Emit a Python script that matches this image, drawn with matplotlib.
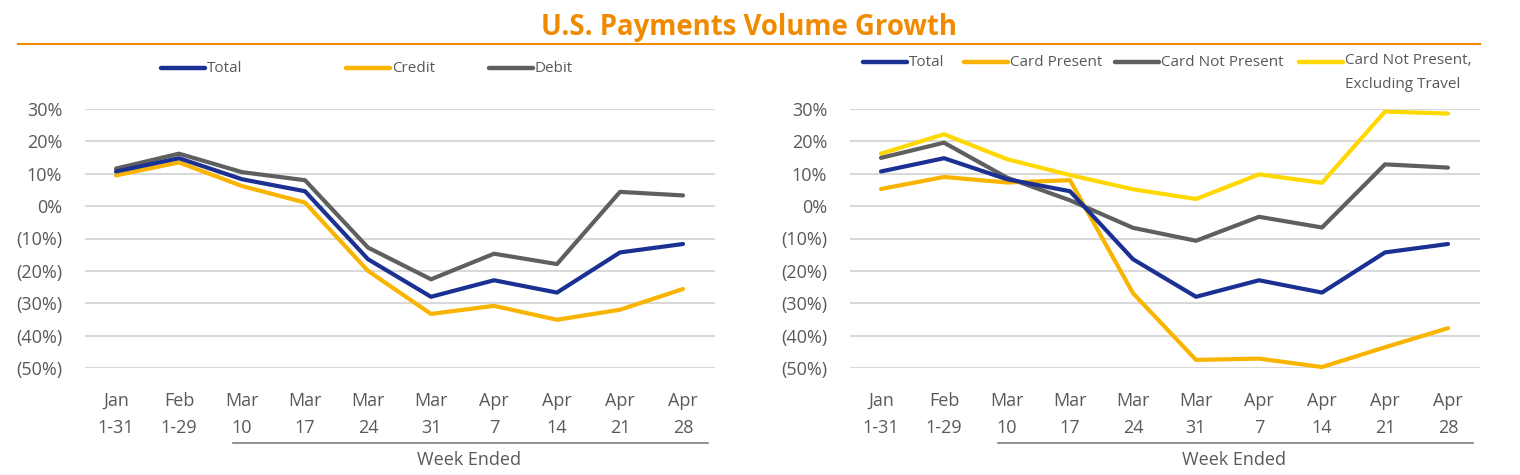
import matplotlib
matplotlib.use("Agg")
import matplotlib.pyplot as plt
from matplotlib.lines import Line2D
from matplotlib.ticker import FuncFormatter
import matplotlib.transforms as mtransforms

plt.rcParams['font.family'] = ['Open Sans', 'DejaVu Sans']

# ---- data ----
categories = ["Jan\n1-31", "Feb\n1-29", "Mar\n10", "Mar\n17", "Mar\n24",
              "Mar\n31", "Apr\n7", "Apr\n14", "Apr\n21", "Apr\n28"]

total = [10.7, 14.8, 8.3, 4.6, -16.4, -28.0, -22.9, -26.7, -14.3, -11.7]
credit = [9.5, 13.5, 6.2, 1.1, -20.0, -33.3, -30.8, -35.1, -32.0, -25.6]
debit = [11.6, 16.2, 10.5, 8.0, -12.8, -22.6, -14.7, -17.9, 4.4, 3.3]

card_present = [5.3, 9.0, 7.3, 8.0, -26.9, -47.5, -47.1, -49.7, -43.6, -37.7]
card_not_present = [14.9, 19.6, 8.8, 1.8, -6.7, -10.7, -3.3, -6.6, 12.9, 11.9]
cnp_ex_travel = [16.2, 22.2, 14.5, 9.6, 5.2, 2.2, 9.8, 7.2, 29.2, 28.6]

yticks = [30, 20, 10, 0, -10, -20, -30, -40, -50]

BLUE = "#1b3093"
GOLD = "#f9b400"
GREY = "#5f5f5f"
YELLOW = "#ffd800"
ORANGE = "#f08a00"
TXT = "#595959"

W, H = 1520, 475
fig = plt.figure(figsize=(W / 100, H / 100), dpi=100)


def fx(px):
    return px / W


def fy(py):
    return 1 - py / H


def pct(v, pos):
    return f"{v:.0f}%" if v >= 0 else f"({-v:.0f}%)"


def setup(ax):
    ax.set_xlim(-0.5, len(categories) - 0.5)
    ax.set_ylim(-50, 30)
    ax.set_yticks(yticks)
    ax.yaxis.set_major_formatter(FuncFormatter(pct))
    ax.set_xticks(range(len(categories)))
    ax.set_xticklabels(categories, linespacing=1.7)
    ax.tick_params(axis='y', length=0, pad=16, labelsize=13, labelcolor=TXT)
    ax.tick_params(axis='x', length=0, pad=17, labelsize=13, labelcolor=TXT)
    for s in ax.spines.values():
        s.set_visible(False)
    ax.grid(axis='y', color="#d9d9d9", lw=1.5)
    ax.set_axisbelow(True)
    # "Week Ended" bracket
    tr = mtransforms.blended_transform_factory(ax.transData, ax.transAxes)
    ax.add_line(Line2D([1.85, 9.4], [-0.29, -0.29], transform=tr, color="#7f7f7f",
                       lw=1.2, clip_on=False))
    ax.text(5.6, -0.355, "Week Ended", transform=tr, ha='center', va='center',
            fontsize=13, color=TXT)


ax1 = fig.add_axes([fx(84.5), fy(368), fx(630), 259 / H])
ax2 = fig.add_axes([fx(849.5), fy(368), fx(630), 259 / H])
setup(ax1)
setup(ax2)

x = range(len(categories))
ax1.plot(x, credit, color=GOLD, lw=3, solid_capstyle='round', clip_on=False)
ax1.plot(x, debit, color=GREY, lw=3, solid_capstyle='round', clip_on=False)
ax1.plot(x, total, color=BLUE, lw=3, solid_capstyle='round', clip_on=False)

ax2.plot(x, cnp_ex_travel, color=YELLOW, lw=3, solid_capstyle='round', clip_on=False)
ax2.plot(x, card_not_present, color=GREY, lw=3, solid_capstyle='round', clip_on=False)
ax2.plot(x, card_present, color=GOLD, lw=3, solid_capstyle='round', clip_on=False)
ax2.plot(x, total, color=BLUE, lw=3, solid_capstyle='round', clip_on=False)

# title + rule
fig.text(fx(749), fy(28), "U.S. Payments Volume Growth", ha='center', va='center',
         fontsize=19.8, fontweight='bold', color=ORANGE)
fig.add_artist(Line2D([fx(18), fx(1480)], [fy(44), fy(44)], color=ORANGE, lw=1.5))

# legends, drawn by hand to match the wide spacing
def legend_item(x0, y0, color, label, va='center', ty=None):
    fig.add_artist(Line2D([fx(x0), fx(x0 + 44)], [fy(y0), fy(y0)], color=color,
                          lw=3.2, solid_capstyle='round'))
    fig.text(fx(x0 + 46), fy(ty if ty is not None else y0), label, ha='left', va=va,
             fontsize=11, color=TXT, linespacing=1.85)

legend_item(161, 68, BLUE, "Total")
legend_item(346, 68, GOLD, "Credit")
legend_item(489, 68, GREY, "Debit")

legend_item(863, 62, BLUE, "Total")
legend_item(964, 62, GOLD, "Card Present")
legend_item(1115, 62, GREY, "Card Not Present")
legend_item(1299, 62, YELLOW, "Card Not Present,\nExcluding Travel", va='top', ty=53)

fig.savefig("out.png", dpi=100)
